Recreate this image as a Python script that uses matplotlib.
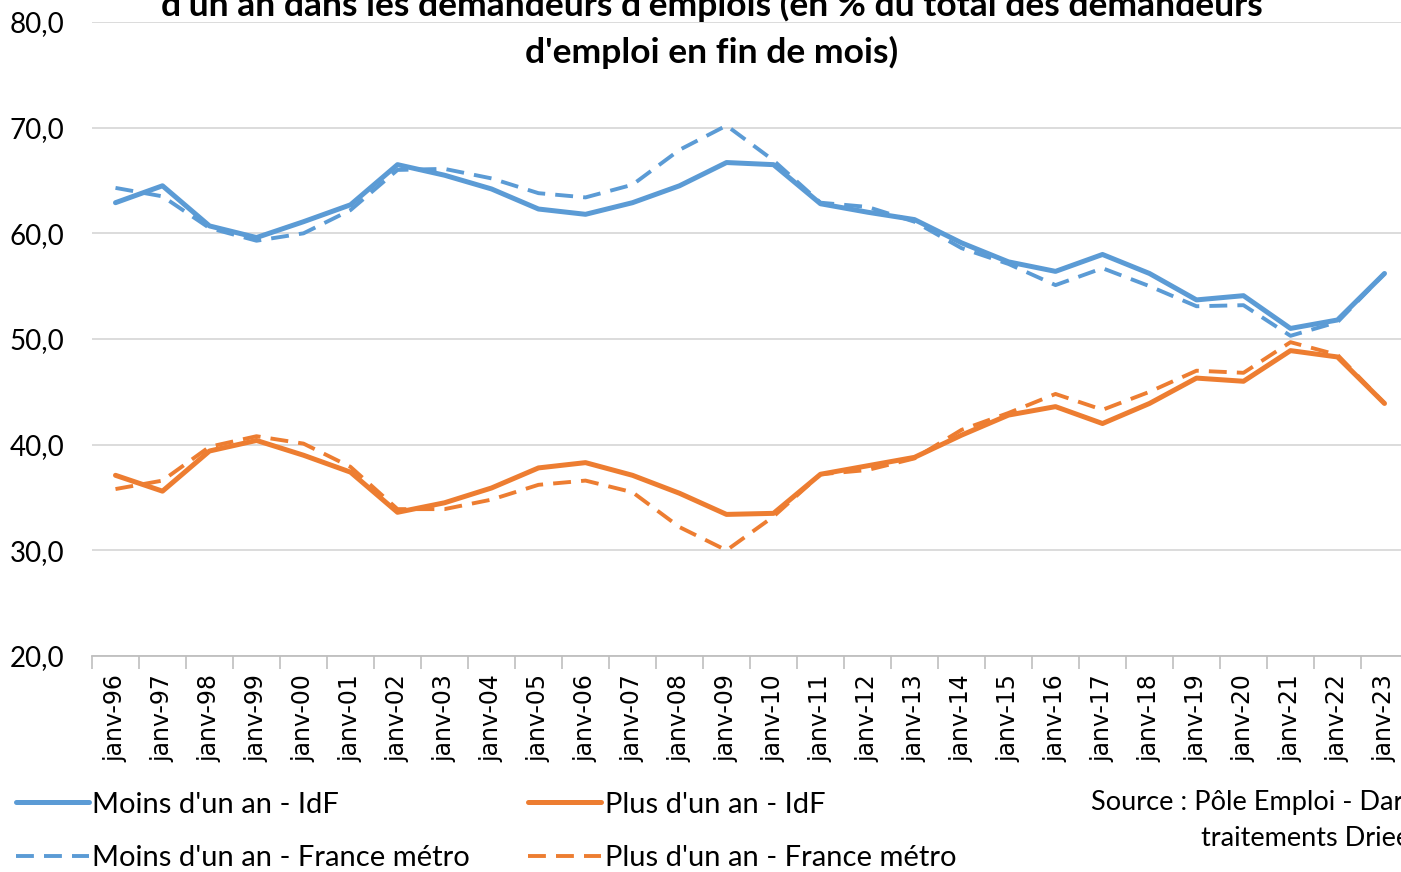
import numpy as np
import matplotlib
matplotlib.use('Agg')
import matplotlib.pyplot as plt
from matplotlib.ticker import FuncFormatter, FixedLocator

plt.rcParams['font.family'] = ['Lato', 'DejaVu Sans']

years = ['96', '97', '98', '99', '00', '01', '02', '03', '04', '05', '06', '07', '08', '09',
         '10', '11', '12', '13', '14', '15', '16', '17', '18', '19', '20', '21', '22', '23']
labels = ['janv-' + y for y in years]

moins_idf = [62.9, 64.5, 60.7, 59.6, 61.1, 62.7, 66.5, 65.5, 64.2, 62.3, 61.8, 62.9, 64.5, 66.7,
             66.5, 62.8, 62.0, 61.3, 59.1, 57.3, 56.4, 58.0, 56.2, 53.7, 54.1, 51.0, 51.8, 56.2]
moins_fr = [64.3, 63.5, 60.5, 59.3, 60.0, 62.2, 66.0, 66.1, 65.2, 63.8, 63.4, 64.6, 67.9, 70.2,
            66.9, 62.9, 62.5, 61.1, 58.6, 57.1, 55.1, 56.7, 55.0, 53.1, 53.2, 50.3, 51.6, 56.2]
plus_idf = [37.1, 35.6, 39.4, 40.4, 39.0, 37.4, 33.6, 34.5, 35.9, 37.8, 38.3, 37.1, 35.4, 33.4,
            33.5, 37.2, 38.0, 38.8, 40.9, 42.8, 43.6, 42.0, 43.9, 46.3, 46.0, 48.9, 48.3, 43.9]
plus_fr = [35.8, 36.6, 39.8, 40.8, 40.1, 37.9, 33.9, 33.9, 34.8, 36.2, 36.6, 35.5, 32.2, 30.0,
           33.2, 37.2, 37.6, 38.7, 41.4, 43.0, 44.8, 43.3, 45.0, 47.0, 46.8, 49.7, 48.5, 43.9]

blue = '#5B9BD5'
orange = '#ED7D31'

fig = plt.figure(figsize=(14.01, 8.72), dpi=100)
ax = fig.add_axes([92/1401, 1 - 656/872, 1316/1401, 634/872])
x = np.arange(len(labels))

l1, = ax.plot(x, moins_idf, color=blue, lw=3.6, solid_capstyle='round', solid_joinstyle='round', zorder=4)
l2, = ax.plot(x, plus_idf, color=orange, lw=3.6, solid_capstyle='round', solid_joinstyle='round', zorder=4)
l3, = ax.plot(x, moins_fr, color=blue, lw=2.8, dashes=(4.6, 2.6), zorder=3)
l4, = ax.plot(x, plus_fr, color=orange, lw=2.8, dashes=(4.6, 2.6), zorder=3)

ax.set_xlim(-0.5, len(labels) - 0.5)
ax.set_ylim(20, 80)
ax.set_yticks(np.arange(20, 81, 10))
ax.yaxis.set_major_formatter(FuncFormatter(lambda v, p: ('%.1f' % v).replace('.', ',')))
ax.yaxis.grid(True, color='#D9D9D9', lw=1.3)
ax.set_axisbelow(True)
ax.tick_params(axis='y', length=0, labelsize=20, pad=20)

ax.set_xticks(x)
ax.set_xticklabels(labels, rotation=90, fontsize=17, family=['DejaVu Sans'])
ax.xaxis.set_minor_locator(FixedLocator(np.arange(-0.5, len(labels), 1)))
ax.tick_params(axis='x', which='major', length=0, pad=13)
ax.tick_params(axis='x', which='minor', length=9, color='#BFBFBF', width=1.2)

for s in ['top', 'right', 'left']:
    ax.spines[s].set_visible(False)
ax.spines['bottom'].set_color('#BFBFBF')
ax.spines['bottom'].set_linewidth(1.3)

fig.text(712/1401, 1 - 5/872, "d'un an dans les demandeurs d'emplois (en % du total des demandeurs",
         ha='center', va='center', fontsize=25.5, fontweight='bold')
fig.text(712/1401, 1 - 52/872, "d'emploi en fin de mois)",
         ha='center', va='center', fontsize=25.5, fontweight='bold')

leg = fig.legend([l1, l3, l2, l4],
                 ["Moins d'un an - IdF", "Moins d'un an - France métro",
                  "Plus d'un an - IdF", "Plus d'un an - France métro"],
                 loc='upper left', bbox_to_anchor=(4/1401, 1 - 780/872), ncol=2,
                 frameon=False, fontsize=21, handlelength=2.5, handletextpad=0.12,
                 columnspacing=2.0, labelspacing=0.95, borderaxespad=0)

fig.text(1091/1401, 1 - 802/872, "Source : Pôle Emploi - Dares,", ha='left', va='center', fontsize=19.5)
fig.text(1201/1401, 1 - 838/872, "traitements Drieets", ha='left', va='center', fontsize=19.5)

fig.savefig('out.png', dpi=100)
